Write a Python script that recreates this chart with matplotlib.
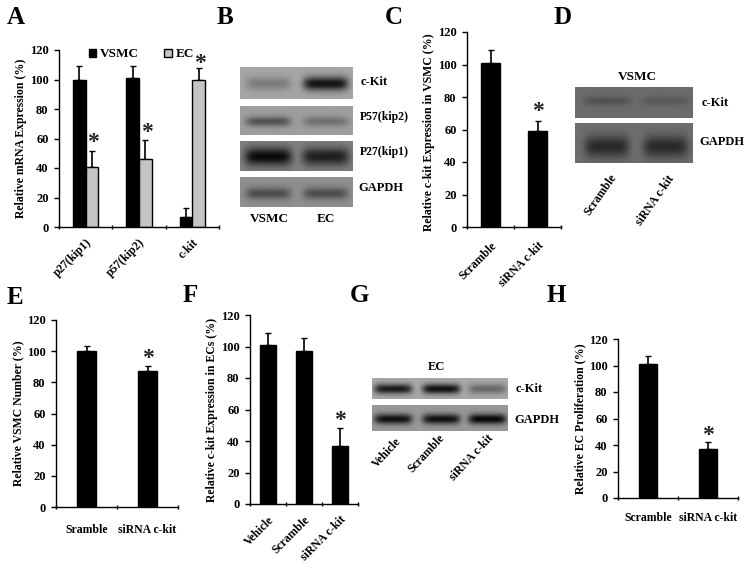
import numpy as np
import matplotlib
matplotlib.use('Agg')
import matplotlib.pyplot as plt
from matplotlib.patches import Patch

plt.rcParams['font.family'] = ['Liberation Serif', 'DejaVu Serif']
plt.rcParams['font.weight'] = 'bold'
plt.rcParams['axes.labelweight'] = 'bold'

W, H = 750, 570

# panel A
a_groups = ['p27(kip1)', 'p57(kip2)', 'c-kit']
a_vsmc = [100, 101, 7]
a_vsmc_err = [9, 8, 6]
a_ec = [41, 46, 100]
a_ec_err = [10.5, 13, 8]

# panel C
c_groups = ['Scramble', 'siRNA c-kit']
c_vals = [101, 59]
c_err = [8, 6.5]

# panel E
e_groups = ['Sramble', 'siRNA c-kit']
e_vals = [100, 87.5]
e_err = [3, 3]

# panel F
f_groups = ['Vehicle', 'Scramble', 'siRNA c-kit']
f_vals = [101, 97, 37]
f_err = [7.5, 8.5, 11]

# panel H
h_groups = ['Scramble', 'siRNA c-kit']
h_vals = [101, 37]
h_err = [6.5, 5]

yticks = [0, 20, 40, 60, 80, 100, 120]

# blots: background grey, band darkness per lane
b_lanes = [0.25, 0.76]
b_ckit = (0.65, [0.16, 0.58])
b_p57 = (0.62, [0.30, 0.18])
b_p27 = (0.50, [0.46, 0.38])
b_gapdh = (0.56, [0.26, 0.26])
d_lanes = [0.27, 0.77]
d_ckit = (0.42, [0.10, 0.07])
d_gapdh = (0.43, [0.27, 0.27])
g_lanes = [0.155, 0.51, 0.85]
g_ckit = (0.66, [0.56, 0.60, 0.25])
g_gapdh = (0.60, [0.54, 0.54, 0.58])

fig = plt.figure(figsize=(W / 100, H / 100), dpi=100)


def px_axes(x0, x1, ytop, ybot):
    return fig.add_axes([x0 / W, 1 - ybot / H, (x1 - x0) / W, (ybot - ytop) / H])


def px_text(x, y, s, **kw):
    kw.setdefault('ha', 'center')
    kw.setdefault('va', 'center')
    kw.setdefault('fontsize', 9)
    fig.text(x / W, 1 - y / H, s, **kw)


def style_axes(ax, groups, ylabel, rot=45, labelpad=2, xpad=7):
    n = len(groups)
    ax.set_xlim(0, n)
    ax.set_ylim(0, 120)
    ax.set_yticks(yticks)
    ax.set_xticks(range(n + 1))
    ax.set_xticklabels([])
    ax.set_xticks(np.arange(n) + 0.5, labels=groups, minor=True)
    ax.tick_params(axis='x', which='minor', length=0, labelsize=8.5, pad=xpad)
    ax.tick_params(axis='x', which='major', length=3, width=1, direction='inout')
    ax.tick_params(axis='y', length=3.5, width=1, labelsize=9, pad=4)
    for lab in ax.get_xticklabels(minor=True):
        if rot:
            lab.set_rotation(rot)
            lab.set_ha('right')
            lab.set_rotation_mode('anchor')
    ax.spines['top'].set_visible(False)
    ax.spines['right'].set_visible(False)
    ax.spines['left'].set_linewidth(1)
    ax.spines['bottom'].set_linewidth(1)
    ax.set_ylabel(ylabel, fontsize=8.5, labelpad=labelpad)
    ax.patch.set_alpha(0)


def simple_bars(ax, vals, err, width):
    x = np.arange(len(vals)) + 0.5
    ax.bar(x, vals, width, color='black', edgecolor='black', zorder=2)
    ax.errorbar(x, vals, yerr=[np.zeros(len(err)), err], fmt='none', ecolor='black',
                elinewidth=1.2, capsize=2, capthick=1, zorder=1)


def star(ax, x, y):
    ax.text(x, y, '*', ha='center', va='center', fontsize=17, color='#222222', clip_on=False)


def blot(x0, x1, ytop, ybot, lanes, spec, half_w, half_h=0.22, ypos=0.52):
    bg, dark = spec
    ax = px_axes(x0, x1, ytop, ybot)
    ny, nx = 60, 200
    yy, xx = np.mgrid[0:1:ny * 1j, 0:1:nx * 1j]
    img = np.full((ny, nx), float(bg))
    for lane, d in zip(lanes, dark):
        img -= d * np.exp(-((xx - lane) / half_w) ** 6 - ((yy - ypos) / half_h) ** 2)
    ax.imshow(img, cmap='gray', vmin=0, vmax=1, aspect='auto', extent=[0, 1, 1, 0],
              interpolation='bilinear')
    ax.axis('off')


# A
ax = px_axes(59, 219, 50, 227)
x = np.arange(3) + 0.5
bw = 0.24
ax.bar(x - bw / 2, a_vsmc, bw, color='black', edgecolor='black', zorder=2)
ax.errorbar(x - bw / 2, a_vsmc, yerr=[np.zeros(3), a_vsmc_err], fmt='none', ecolor='black',
            elinewidth=1.2, capsize=2, capthick=1, zorder=1)
ax.bar(x + bw / 2, a_ec, bw, color='#c4c4c4', edgecolor='black', linewidth=1, zorder=2)
ax.errorbar(x + bw / 2, a_ec, yerr=[np.zeros(3), a_ec_err], fmt='none', ecolor='black',
            elinewidth=1.2, capsize=2, capthick=1, zorder=1)
style_axes(ax, a_groups, 'Relative mRNA Expression (%)')
for i, top in enumerate([57.6, 64.4, 111]):
    star(ax, x[i] + bw / 2 + 0.02, top)
ax.legend(handles=[Patch(facecolor='black', edgecolor='black', label='VSMC'),
                   Patch(facecolor='#c4c4c4', edgecolor='black', label='EC')],
          ncol=2, frameon=False, fontsize=9.5, handlelength=0.55, handleheight=0.55,
          handletextpad=0.3, columnspacing=1.9, loc='upper left',
          bbox_to_anchor=(0.1875, 1.01), borderaxespad=0, borderpad=0)

# C
ax = px_axes(467, 561, 32, 227)
simple_bars(ax, c_vals, c_err, 0.42)
style_axes(ax, c_groups, 'Relative c-kit Expression in VSMC (%)', xpad=9)
ax.yaxis.label.set_y(0.485)
star(ax, 1.5, 70.8)

# E
ax = px_axes(56, 178, 320, 507)
simple_bars(ax, e_vals, e_err, 0.32)
style_axes(ax, e_groups, 'Relative VSMC Number (%)', rot=0, xpad=12)
star(ax, 1.5, 95.6)

# F
ax = px_axes(250, 358, 315, 504)
simple_bars(ax, f_vals, f_err, 0.44)
style_axes(ax, f_groups, 'Relative c-kit Expression in ECs (%)')
star(ax, 2.5, 53.3)

# H
ax = px_axes(618, 738, 339, 498)
simple_bars(ax, h_vals, h_err, 0.31)
style_axes(ax, h_groups, 'Relative EC Proliferation (%)', rot=0, xpad=10)
star(ax, 1.5, 47.5)

# B
blot(240, 352, 67, 99, b_lanes, b_ckit, 0.2)
blot(240, 352, 106, 135, b_lanes, b_p57, 0.2, half_h=0.17, ypos=0.55)
blot(240, 352, 141, 171, b_lanes, b_p27, 0.21, half_h=0.3)
blot(240, 352, 177, 207, b_lanes, b_gapdh, 0.2, half_h=0.2, ypos=0.55)
px_text(374, 82, 'c-Kit')
px_text(384, 117, 'P57(kip2)', fontsize=8.5)
px_text(384, 152, 'P27(kip1)', fontsize=8.5)
px_text(381, 188, 'GAPDH')
px_text(269, 219, 'VSMC', fontsize=9.5)
px_text(326, 219, 'EC', fontsize=9.5)

# D
blot(575, 693, 87, 118, d_lanes, d_ckit, 0.2, half_h=0.15, ypos=0.45)
blot(575, 693, 123, 163, d_lanes, d_gapdh, 0.19, half_h=0.27, ypos=0.59)
px_text(637, 77, 'VSMC', fontsize=9.5)
px_text(715, 103, 'c-Kit')
px_text(722, 142, 'GAPDH')
px_text(601, 195, 'Scramble', rotation=55, fontsize=8.5)
px_text(655, 200, 'siRNA c-kit', rotation=55, fontsize=8.5)

# G
blot(372, 508, 378, 399, g_lanes, g_ckit, 0.14, half_h=0.24)
blot(372, 508, 405, 431, g_lanes, g_gapdh, 0.14, half_h=0.2, ypos=0.54)
px_text(436, 367, 'EC')
px_text(529, 389, 'c-Kit')
px_text(537, 420, 'GAPDH')
px_text(387, 453, 'Vehicle', rotation=47, fontsize=8.5)
px_text(426, 454, 'Scramble', rotation=47, fontsize=8.5)
px_text(472, 458, 'siRNA c-kit', rotation=47, fontsize=8.5)

# panel letters
for letter, lx, ly in [('A', 16, 18), ('B', 225, 18), ('C', 394, 18), ('D', 563, 18),
                       ('E', 15, 297), ('F', 190, 296), ('G', 359, 296), ('H', 556, 295)]:
    px_text(lx, ly, letter, fontsize=18)

fig.savefig('out.png', dpi=100)
